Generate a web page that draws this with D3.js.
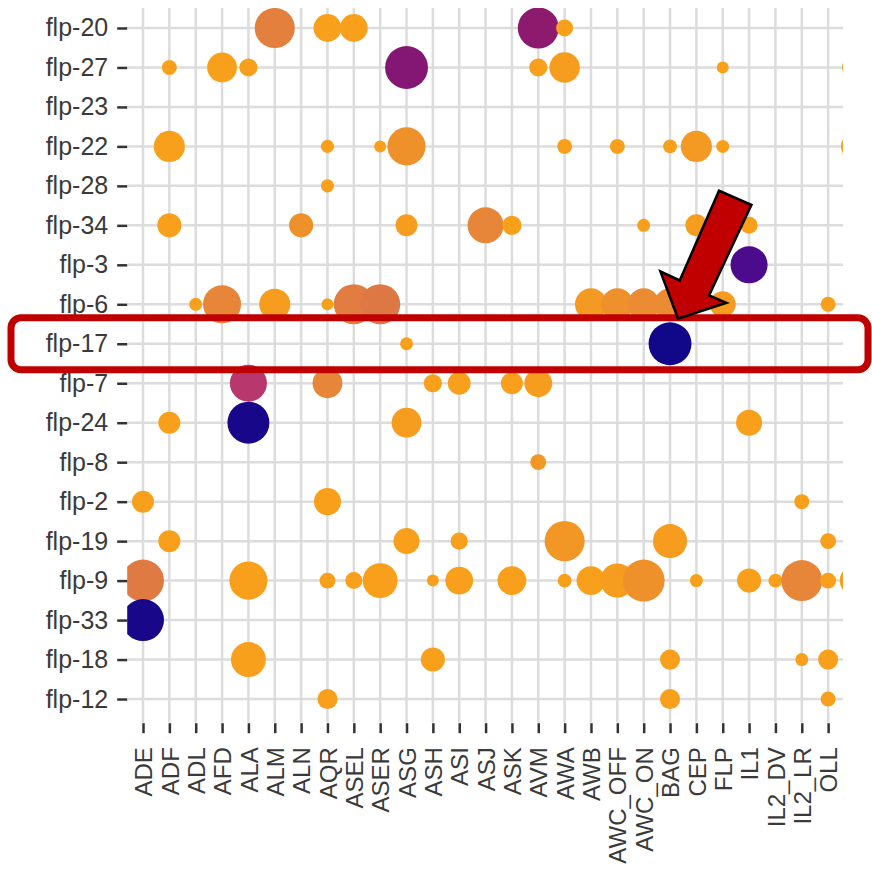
<!DOCTYPE html>
<html>
<head>
<meta charset="utf-8">
<script src="https://d3js.org/d3.v7.min.js"></script>
<style>
    body { margin: 0; background: #fff; }
    #chart-area { width: 872px; height: 873px; }
</style>
</head>
<body>
<div id="chart-area"></div>
<script>
// Categories
var rowNames = ["flp-20", "flp-27", "flp-23", "flp-22", "flp-28", "flp-34", "flp-3", "flp-6",
    "flp-17", "flp-7", "flp-24", "flp-8", "flp-2", "flp-19", "flp-9", "flp-33", "flp-18", "flp-12"];
// last column is cut off by the crop of the original figure
var colNames = ["ADE", "ADF", "ADL", "AFD", "ALA", "ALM", "ALN", "AQR", "ASEL", "ASER", "ASG",
    "ASH", "ASI", "ASJ", "ASK", "AVM", "AWA", "AWB", "AWC_OFF", "AWC_ON", "BAG", "CEP", "FLP",
    "IL1", "IL2_DV", "IL2_LR", "OLL", "OLQ"];

// [row, column, percent expressed, colour score]
var dots = [
    ["flp-20", "ALM", 83, 0.68], ["flp-20", "AQR", 40, 0.79], ["flp-20", "ASEL", 40, 0.79],
    ["flp-20", "AVM", 87, 0.33], ["flp-20", "AWA", 15, 0.79],
    ["flp-27", "ADF", 11.6, 0.79], ["flp-27", "AFD", 46, 0.79], ["flp-27", "ALA", 17, 0.79],
    ["flp-27", "ASG", 95, 0.30], ["flp-27", "AVM", 17, 0.79], ["flp-27", "AWA", 48, 0.78],
    ["flp-27", "FLP", 7.4, 0.79], ["flp-27", "OLQ", 32, 0.79],
    ["flp-22", "ADF", 50, 0.79], ["flp-22", "AQR", 9, 0.79], ["flp-22", "ASER", 7.4, 0.79],
    ["flp-22", "ASG", 75, 0.74], ["flp-22", "AWA", 11.6, 0.79], ["flp-22", "AWC_OFF", 11.6, 0.79],
    ["flp-22", "BAG", 10, 0.79], ["flp-22", "CEP", 50, 0.77], ["flp-22", "FLP", 8.7, 0.79],
    ["flp-22", "OLQ", 38, 0.79],
    ["flp-28", "AQR", 9, 0.79],
    ["flp-34", "ADF", 30, 0.79], ["flp-34", "ALN", 30, 0.74], ["flp-34", "ASG", 25, 0.78],
    ["flp-34", "ASJ", 67, 0.70], ["flp-34", "ASK", 19, 0.79], ["flp-34", "AWC_ON", 8.7, 0.79],
    ["flp-34", "CEP", 25, 0.78], ["flp-34", "IL1", 15, 0.79],
    ["flp-3", "IL1", 71, 0.15],
    ["flp-6", "ADL", 8.7, 0.79], ["flp-6", "AFD", 75, 0.70], ["flp-6", "ALM", 50, 0.78],
    ["flp-6", "AQR", 7.4, 0.79], ["flp-6", "ASEL", 83, 0.67], ["flp-6", "ASER", 83, 0.65],
    ["flp-6", "AWB", 53, 0.77], ["flp-6", "AWC_OFF", 53, 0.74], ["flp-6", "AWC_ON", 53, 0.72],
    ["flp-6", "BAG", 53, 0.72], ["flp-6", "FLP", 35, 0.78], ["flp-6", "OLL", 11.6, 0.79],
    ["flp-17", "ASG", 8.7, 0.79], ["flp-17", "BAG", 95, 0.0],
    ["flp-7", "ALA", 71, 0.45], ["flp-7", "AQR", 46, 0.70], ["flp-7", "ASH", 17, 0.79],
    ["flp-7", "ASI", 27, 0.79], ["flp-7", "ASK", 25, 0.79], ["flp-7", "AVM", 40, 0.78],
    ["flp-24", "ADF", 25, 0.79], ["flp-24", "ALA", 91, 0.02], ["flp-24", "ASG", 46, 0.78],
    ["flp-24", "IL1", 35, 0.79],
    ["flp-8", "AVM", 13, 0.76],
    ["flp-2", "ADE", 25, 0.79], ["flp-2", "AQR", 38, 0.79], ["flp-2", "IL2_LR", 11.6, 0.79],
    ["flp-19", "ADF", 25, 0.79], ["flp-19", "ASG", 35, 0.79], ["flp-19", "ASI", 15, 0.79],
    ["flp-19", "AWA", 83, 0.76], ["flp-19", "BAG", 60, 0.78], ["flp-19", "OLL", 13, 0.79],
    ["flp-9", "ADE", 91, 0.66], ["flp-9", "ALA", 75, 0.79], ["flp-9", "AQR", 13, 0.79],
    ["flp-9", "ASEL", 15, 0.79], ["flp-9", "ASER", 63, 0.79], ["flp-9", "ASH", 7.4, 0.79],
    ["flp-9", "ASI", 40, 0.79], ["flp-9", "ASK", 43, 0.80], ["flp-9", "AWA", 10, 0.79],
    ["flp-9", "AWB", 43, 0.79], ["flp-9", "AWC_OFF", 60, 0.78], ["flp-9", "AWC_ON", 91, 0.74],
    ["flp-9", "CEP", 8.7, 0.79], ["flp-9", "IL1", 30, 0.79], ["flp-9", "IL2_DV", 10, 0.79],
    ["flp-9", "IL2_LR", 87, 0.70], ["flp-9", "OLL", 13, 0.79], ["flp-9", "OLQ", 45, 0.79],
    ["flp-33", "ADE", 91, 0.02],
    ["flp-18", "ALA", 63, 0.79], ["flp-18", "ASH", 30, 0.79], ["flp-18", "BAG", 21, 0.79],
    ["flp-18", "IL2_LR", 8.7, 0.79], ["flp-18", "OLL", 21, 0.79],
    ["flp-12", "AQR", 21, 0.79], ["flp-12", "BAG", 21, 0.79], ["flp-12", "OLL", 11.6, 0.79]
];

// colour ramp as it appears in the figure (navy -> purple -> orange)
var colourStops = [0, 0.15, 0.33, 0.45, 0.68, 0.79];
var colourRamp = ["#100789", "#4c0a8c", "#8e1a6e", "#b8386e", "#e3803e", "#f8a01c"];

// highlighted row / neuron
var markRow = "flp-17";
var markCol = "BAG";

var width = 872, height = 873;
var panel = { left: 127.2, right: 870.3, top: 4.3, bottom: 722.7 };
var cropRight = 843, cropTop = 8;

var svg = d3.select("#chart-area")
    .append("svg")
    .attr("width", width)
    .attr("height", height);

svg.append("defs").append("clipPath")
    .attr("id", "panel-clip")
    .append("rect")
    .attr("x", panel.left)
    .attr("y", cropTop)
    .attr("width", cropRight - panel.left)
    .attr("height", panel.bottom - cropTop);

svg.select("defs").append("clipPath")
    .attr("id", "crop-clip")
    .append("rect")
    .attr("x", 0)
    .attr("y", 0)
    .attr("width", cropRight)
    .attr("height", height);

// Scales
var x = d3.scalePoint().domain(colNames).range([panel.left, panel.right]).padding(0.6);
var y = d3.scalePoint().domain(rowNames).range([panel.top, panel.bottom]).padding(0.6);
var r = d3.scaleSqrt().domain([0, 100]).range([0, 22]);
var colour = d3.scaleLinear().domain(colourStops).range(colourRamp).clamp(true);

var g = svg.append("g").attr("clip-path", "url(#crop-clip)");

// Grid
var grid = g.append("g").attr("clip-path", "url(#panel-clip)");
grid.selectAll(".hgrid")
    .data(rowNames)
    .enter().append("line")
    .attr("x1", panel.left).attr("x2", cropRight)
    .attr("y1", function(d) { return y(d); })
    .attr("y2", function(d) { return y(d); })
    .attr("stroke", "#dcdcdc")
    .attr("stroke-width", 2.5);
grid.selectAll(".vgrid")
    .data(colNames)
    .enter().append("line")
    .attr("x1", function(d) { return x(d); })
    .attr("x2", function(d) { return x(d); })
    .attr("y1", cropTop).attr("y2", panel.bottom)
    .attr("stroke", "#dcdcdc")
    .attr("stroke-width", 2.5);

// Dots
grid.selectAll("circle")
    .data(dots)
    .enter().append("circle")
    .attr("cx", function(d) { return x(d[1]); })
    .attr("cy", function(d) { return y(d[0]); })
    .attr("r", function(d) { return r(d[2]); })
    .attr("fill", function(d) { return colour(d[3]); });

// Y-axis
var yAxis = g.append("g")
    .attr("transform", "translate(" + panel.left + ",0)")
    .call(d3.axisLeft(y).tickSize(10).tickPadding(9));
yAxis.select(".domain").remove();
yAxis.selectAll("line").attr("stroke", "#333").attr("stroke-width", 2.5);
yAxis.selectAll("text")
    .attr("fill", "#3a3a3a")
    .attr("font-family", "'Liberation Sans', Arial, sans-serif")
    .attr("font-size", "25px");

// X-axis
var xAxis = g.append("g")
    .attr("transform", "translate(0," + (panel.bottom + 0.5) + ")")
    .call(d3.axisBottom(x).tickSize(10).tickPadding(13));
xAxis.select(".domain").remove();
xAxis.selectAll("line").attr("stroke", "#333").attr("stroke-width", 2.5);
xAxis.selectAll("text")
    .attr("fill", "#3a3a3a")
    .attr("font-family", "'Liberation Sans', Arial, sans-serif")
    .attr("font-size", "24px")
    .attr("transform", "rotate(-90)")
    .attr("text-anchor", "end")
    .attr("x", -24)
    .attr("y", 0)
    .attr("dy", "0.36em");

// Annotation: box around the row and arrow to the dot
svg.append("rect")
    .attr("x", 11)
    .attr("y", y(markRow) - 26)
    .attr("width", 857)
    .attr("height", 52)
    .attr("rx", 10)
    .attr("fill", "none")
    .attr("stroke", "#c00000")
    .attr("stroke-width", 7);

var tipX = x(markCol) + 8, tipY = y(markRow) - 25;
var arrow = [[0, 0], [-17.6, -47.3], [1.7, -38.3], [41, -128], [73.4, -114], [31, -23.3], [48.4, -16]];
svg.append("path")
    .attr("d", d3.line()(arrow.map(function(p) { return [tipX + p[0], tipY + p[1]]; })) + "Z")
    .attr("fill", "#c00000")
    .attr("stroke", "#000")
    .attr("stroke-width", 2.5)
    .attr("stroke-linejoin", "miter");
</script>
</body>
</html>
